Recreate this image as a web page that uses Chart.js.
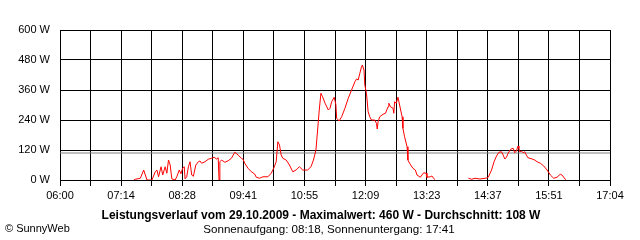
<!DOCTYPE html>
<html>
<head>
<meta charset="utf-8">
<script src="https://cdn.jsdelivr.net/npm/chart.js@4.4.1/dist/chart.umd.min.js"></script>
<style>
  body { margin: 0; background: #fff; }
  canvas { display: block; }
</style>
</head>
<body>
<canvas id="leistung" width="640" height="240"></canvas>
<script>
var zeiten = ["07:29","07:31","07:37","07:41","07:43","07:45","07:51","07:55","07:57","07:59",
  "08:02","08:04","08:07","08:09","08:11","08:13","08:15","08:19","08:21","08:24","08:26","08:28",
  "08:30","08:31","08:33","08:35","08:37","08:39","08:41","08:44","08:47","08:49","08:51","08:55",
  "08:59","09:03","09:06","09:09","09:11","09:12","09:13","09:15","09:19","09:23","09:27","09:31",
  "09:35","09:39","09:41","09:43","09:47","09:51","09:55","09:57","10:01","10:05","10:11","10:15",
  "10:18","10:21","10:23","10:25","10:27","10:29","10:33","10:37","10:41","10:45","10:49","10:53",
  "10:59","11:03","11:06","11:09","11:11","11:13","11:15","11:17","11:20","11:24","11:26","11:28",
  "11:31","11:33","11:34","11:37","11:40","11:44","11:48","11:52","11:56","11:58","12:00","12:02",
  "12:04","12:05","12:07","12:08","12:10","12:12","12:14","12:16","12:20","12:22","12:23","12:24",
  "12:26","12:30","12:33","12:36","12:37","12:39","12:42","12:43","12:44","12:46","12:48","12:50",
  "12:53","12:54","12:56","12:59","13:00","13:02","13:06","13:09","13:11","13:15","13:19","13:22",
  "13:23","13:27","13:29","13:32","13:33","13:50",
  "14:13","14:17","14:21","14:27","14:35","14:37","14:41","14:44","14:47","14:50","14:53","14:55",
  "14:57","14:59","15:01","15:04","15:07","15:09","15:11","15:13","15:14","15:15","15:17","15:19",
  "15:21","15:23","15:25","15:30","15:33","15:36","15:40","15:44","15:48","15:52","15:56","16:00",
  "16:04","16:06","16:10","16:11"];
var watt = [0,3,7,40,20,0,0,33,40,13,
  53,20,53,27,80,60,5,0,13,40,25,47,
  53,5,13,53,73,20,15,60,73,76,67,73,
  83,87,91,84,89,0,73,80,71,77,87,111,
  100,87,83,67,47,33,24,11,7,13,13,27,
  47,73,153,140,100,87,80,60,33,40,53,40,
  40,53,80,120,200,280,347,333,307,280,287,313,
  331,303,247,236,253,287,327,360,393,404,400,427,
  453,460,440,380,347,273,253,240,240,227,204,233,
  253,263,267,293,307,293,287,267,313,307,331,300,
  253,207,173,133,80,67,47,40,20,11,29,27,
  11,13,16,3,0,null,
  7,3,7,4,8,11,40,73,96,111,113,100,
  84,91,107,123,127,109,116,136,127,113,116,109,
  113,100,89,84,80,73,67,56,40,20,7,11,
  23,20,3,0];
var durchschnitt = 108;
var xLabels = ["06:00","07:14","08:28","09:41","10:55","12:09","13:23","14:37","15:51","17:04"];
var yTicks = [0,120,240,360,480,600];

function minuten(s){
  var p = s.split(":");
  return (+p[0])*60 + (+p[1]) - 360;
}
var spanne = minuten(xLabels[xLabels.length-1]);
var punkte = zeiten.map(function(z,i){ return {x: minuten(z), y: watt[i]}; });

var texte = {
  id: 'texte',
  afterDraw: function(chart){
    var c = chart.ctx;
    c.save();
    c.fillStyle = '#000';
    c.textBaseline = 'middle';
    c.textAlign = 'center';
    c.font = 'bold 12px "Liberation Sans", Arial, sans-serif';
    c.fillText('Leistungsverlauf vom 29.10.2009 - Maximalwert: 460 W - Durchschnitt: ' + durchschnitt + ' W', 321, 216);
    c.font = '11.6px "Liberation Sans", Arial, sans-serif';
    c.fillText('Sonnenaufgang: 08:18, Sonnenuntergang: 17:41', 329, 230);
    c.font = '11px "Liberation Sans", Arial, sans-serif';
    c.textAlign = 'left';
    c.fillText('\u00A9 SunnyWeb', 5, 229);
    c.restore();
  }
};

var ctx = document.getElementById("leistung").getContext("2d");
var chart = new Chart(ctx, {
  type: 'line',
  data: {
    datasets: [{
      data: punkte,
      borderColor: '#ff0000',
      borderWidth: 1,
      pointRadius: 0,
      spanGaps: false,
      tension: 0
    }, {
      data: [{x: 0, y: durchschnitt}, {x: spanne, y: durchschnitt}],
      borderColor: '#808080',
      borderWidth: 1,
      pointRadius: 0
    }]
  },
  options: {
    responsive: false,
    animation: false,
    layout: { padding: { top: 30, right: 30, left: 0, bottom: 0 } },
    plugins: { legend: { display: false }, tooltip: { enabled: false } },
    scales: {
      x: {
        type: 'linear',
        min: 0,
        max: spanne,
        afterBuildTicks: function(scale){
          var t = [];
          for (var i = 0; i <= 18; i++) t.push({value: i*spanne/18});
          scale.ticks = t;
        },
        afterFit: function(scale){ scale.height = 60; },
        grid: { color: '#000', lineWidth: 1, tickLength: 6, drawTicks: true },
        border: { color: '#000' },
        ticks: {
          autoSkip: false,
          maxRotation: 0,
          padding: 3,
          color: '#000',
          font: { family: '"Liberation Sans", Arial, sans-serif', size: 11 },
          callback: function(v, i){ return i % 2 === 0 ? xLabels[i/2] : ''; }
        }
      },
      y: {
        min: 0,
        max: 600,
        afterBuildTicks: function(scale){
          scale.ticks = yTicks.map(function(v){ return {value: v}; });
        },
        afterFit: function(scale){ scale.width = 60; },
        grid: { color: '#000', lineWidth: 1, drawTicks: false },
        border: { color: '#000' },
        ticks: {
          padding: 10,
          color: '#000',
          font: { family: '"Liberation Sans", Arial, sans-serif', size: 11 },
          callback: function(v){ return v + ' W'; }
        }
      }
    }
  },
  plugins: [texte]
});
</script>
</body>
</html>
